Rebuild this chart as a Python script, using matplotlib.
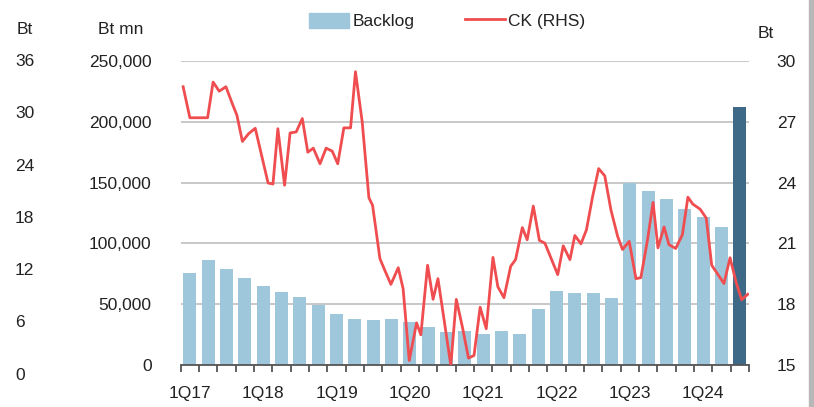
import matplotlib
matplotlib.use("Agg")
import matplotlib.pyplot as plt
from matplotlib.patches import Patch, Rectangle
from matplotlib.lines import Line2D

plt.rcParams['font.family'] = ['Liberation Sans', 'DejaVu Sans']

# backlog by quarter, 1Q17 .. 3Q24 (Bt mn)
backlog = [76000, 86700, 78700, 71800, 64900, 59900, 55800, 49200,
           42000, 38100, 36700, 38100, 35100, 31200, 27100, 28300,
           25800, 28300, 25800, 45900, 60700, 59300, 59300, 55500,
           149700, 142900, 136300, 128000, 121400, 113500, 212500]
quarter_labels = ['1Q17', '1Q18', '1Q19', '1Q20', '1Q21', '1Q22', '1Q23', '1Q24']

# CK share price (Bt), month index since Jan-17
ck_month = [0.4, 1.5, 4.4, 5.3, 6.3, 7.4, 8.4, 9.2, 10.1, 11.1, 12.2, 14.3,
            15.1, 15.9, 17.0, 17.9, 18.9, 19.9, 20.8, 21.7, 22.8, 23.8, 24.8,
            25.7, 26.7, 27.8, 28.6, 29.7, 30.8, 31.4, 32.6, 33.4, 34.4, 35.6,
            36.4, 37.4, 38.6, 39.3, 40.4, 41.3, 42.1, 43.2, 44.2, 45.1, 46.1,
            47.1, 48.0, 49.0, 50.0, 51.1, 51.9, 52.9, 54.0, 54.8, 55.9, 56.7,
            57.7, 58.7, 59.6, 61.7, 62.6, 63.7, 64.5, 65.5, 66.4, 67.4, 68.4,
            69.4, 70.4, 71.5, 72.3, 73.4, 74.5, 75.3, 76.4, 77.3, 78.1, 79.1,
            79.9, 81.0, 82.1, 83.0, 83.8, 85.0, 86.0, 86.9, 87.8, 88.9, 89.9,
            90.9, 91.8, 92.8]
ck_price = [28.73, 27.2, 27.2, 28.96, 28.51, 28.73, 27.93, 27.32, 26.03, 26.41,
            26.68, 23.98, 23.93, 26.66, 23.87, 26.45, 26.5, 27.16, 25.5, 25.7,
            24.93, 25.7, 25.55, 24.93, 26.7, 26.7, 29.47, 27.0, 23.25, 22.88,
            20.25, 19.67, 18.98, 19.8, 18.76, 15.22, 17.08, 16.49, 19.92, 18.24,
            19.26, 17.03, 14.98, 18.24, 16.87, 15.34, 15.47, 17.85, 16.79, 20.31,
            18.86, 18.32, 19.87, 20.2, 21.78, 21.18, 22.84, 21.15, 21.01, 19.46,
            20.88, 20.2, 21.39, 20.98, 21.67, 23.3, 24.69, 24.33, 22.66, 21.35,
            20.7, 21.1, 19.26, 19.31, 21.19, 23.02, 20.78, 21.81, 20.94, 20.75,
            21.43, 23.28, 22.94, 22.69, 22.25, 19.92, 19.52, 19.02, 20.29, 19.07,
            18.22, 18.49]

W, H = 814, 407
light = '#9fc7dc'
dark = '#3e6a88'
red = '#ef4d4f'
txt = '#222222'
fs = 12.5

fig = plt.figure(figsize=(W / 100, H / 100), dpi=100)
ax = fig.add_axes([180.7 / W, 1 - 365 / H, (749 - 180.7) / W, (365 - 61) / H])

n = len(backlog)
xs = [i + 0.5 for i in range(n)]
colors = [light] * (n - 1) + [dark]
ax.bar(xs, backlog, width=0.7, color=colors, zorder=2)
ax.set_xlim(0, n)
ax.set_ylim(0, 250000)
ax.set_yticks(range(0, 250001, 50000))
ax.set_yticklabels(['{:,}'.format(v) for v in range(0, 250001, 50000)])
ax.grid(axis='y', color='#c8c8c8', lw=1.4, zorder=0)
ax.set_axisbelow(True)
for s in ['top', 'left', 'right']:
    ax.spines[s].set_visible(False)
ax.spines['bottom'].set_color('#555555')
ax.spines['bottom'].set_linewidth(1.3)
ax.set_xticks(range(0, n + 1))
ax.set_xticklabels([])
ax.set_xticks([4 * k + 0.5 for k in range(len(quarter_labels))], minor=True)
ax.set_xticklabels(quarter_labels, minor=True)
ax.tick_params(axis='x', which='major', length=5, width=1.3, color='#555555')
ax.tick_params(axis='x', which='minor', length=0, pad=15, labelsize=fs, labelcolor=txt)
ax.tick_params(axis='y', length=0, pad=21, labelsize=fs, labelcolor=txt)

ax2 = ax.twinx()
ax2.plot([m / 3 for m in ck_month], ck_price, color=red, lw=2.0, zorder=3)
ax2.set_ylim(15, 30)
ax2.set_yticks(range(15, 31, 3))
ax2.tick_params(axis='y', length=0, pad=20, labelsize=fs, labelcolor=txt)
for s in ['top', 'left', 'right', 'bottom']:
    ax2.spines[s].set_visible(False)
ax2.set_xlim(0, n)

# extra left-hand Bt scale
ax3 = fig.add_axes([15 / W, 1 - 373.5 / H, 0.0001, 313.5 / H])
ax3.set_ylim(0, 36)
ax3.set_yticks(range(0, 37, 6))
ax3.yaxis.set_ticks_position('right')
ax3.tick_params(axis='y', length=0, pad=0, labelsize=fs, labelcolor=txt)
ax3.set_xticks([])
for s in ax3.spines.values():
    s.set_visible(False)
ax3.patch.set_visible(False)

fig.text(25 / W, 1 - 29 / H, 'Bt', ha='center', va='center', fontsize=fs, color=txt)
fig.text(121 / W, 1 - 29 / H, 'Bt mn', ha='center', va='center', fontsize=fs, color=txt)
fig.text(766 / W, 1 - 34 / H, 'Bt', ha='center', va='center', fontsize=fs, color=txt)

handles = [Patch(color=light, label='Backlog'),
           Line2D([], [], color=red, lw=2.0, label='CK (RHS)')]
fig.legend(handles=handles, loc='center', bbox_to_anchor=(447 / W, 1 - 21 / H),
           ncol=2, frameon=False, fontsize=fs, handlelength=2.3, handleheight=1.0,
           handletextpad=0.2, columnspacing=2.9, labelcolor=txt)

fig.patches.append(Rectangle((809 / W, 0), 5 / W, 1, transform=fig.transFigure,
                             color='#b8b8b8', zorder=0))

fig.savefig('out.png', dpi=100)
